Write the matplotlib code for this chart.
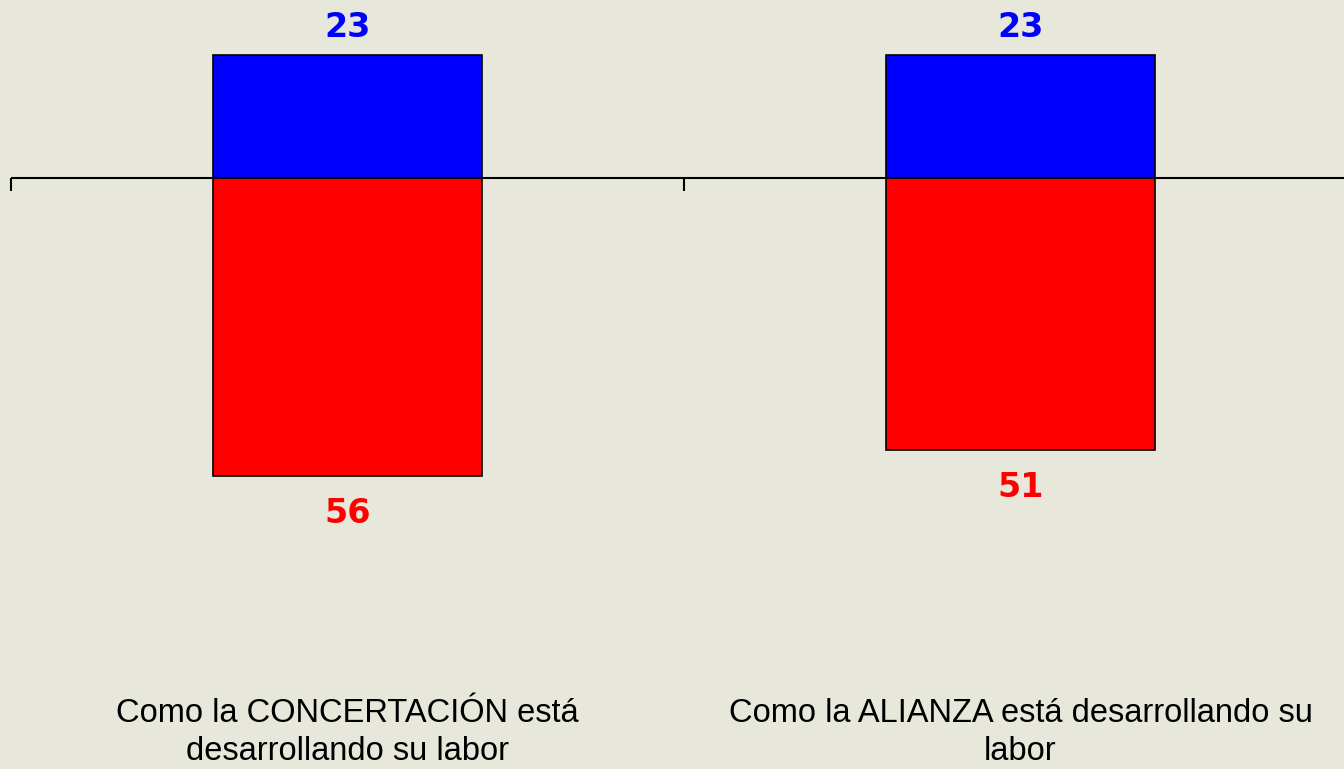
import matplotlib
matplotlib.use("Agg")
import matplotlib.pyplot as plt

# data
categories = ["Como la CONCERTACIÓN está\ndesarrollando su labor",
              "Como la ALIANZA está desarrollando su\nlabor"]
positive = [23, 23]
negative = [56, 51]

BG = "#E8E7DC"
BLUE = "#0000FF"
RED = "#FF0000"

fig = plt.figure(figsize=(13.44, 7.69), dpi=100)
fig.patch.set_facecolor(BG)
ax = fig.add_axes([11 / 1344, 0.0, 1 - 11 / 1344, 1.0])
ax.set_facecolor(BG)

x = list(range(len(categories)))
ax.bar(x, positive, width=0.4, color=BLUE, edgecolor="black", linewidth=1.2, zorder=2)
ax.bar(x, [-v for v in negative], width=0.4, color=RED, edgecolor="black", linewidth=1.2, zorder=2)

ax.axhline(0, color="black", linewidth=1.5, zorder=3)

for s in ax.spines.values():
    s.set_visible(False)
ax.set_yticks([])
ax.set_xticks([])
ax.set_xticks([-0.5, 0.5, 1.5], minor=True)
ax.tick_params(axis="x", which="minor", direction="out", length=9, width=1.5,
               color="black", labelbottom=False)
ax.spines["bottom"].set_position(("data", 0))

# px scale: ~5.33 px per unit, zero line at y=178 (limits set after ticks)
ax.set_ylim(-(769 - 178) / 5.33, 178 / 5.33)
ax.set_xlim(-0.5, 1.4807)

for i in x:
    ax.annotate(f"{positive[i]}", (i, positive[i]), xytext=(0, 8), textcoords="offset points",
                ha="center", va="bottom", color=BLUE, fontsize=24, fontweight="bold",
                family="DejaVu Sans")
    ax.annotate(f"{negative[i]}", (i, -negative[i]), xytext=(0, -15), textcoords="offset points",
                ha="center", va="top", color=RED, fontsize=24, fontweight="bold",
                family="DejaVu Sans")
    ax.text(i, 0.047, categories[i], transform=ax.get_xaxis_transform(),
            ha="center", va="center", fontsize=23.5, color="black",
            family="Liberation Sans", linespacing=1.3)

fig.savefig("out.png", dpi=100, facecolor=BG)
